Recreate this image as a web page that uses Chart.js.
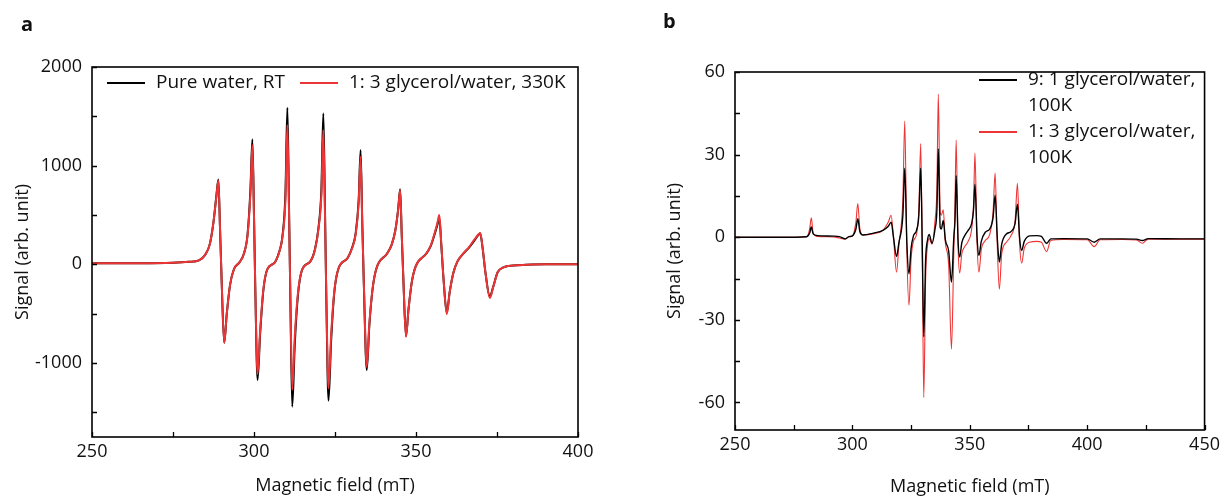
<!DOCTYPE html>
<html>
<head>
<meta charset="utf-8">
<script src="https://cdn.jsdelivr.net/npm/chart.js@4.4.0/dist/chart.umd.min.js"></script>
<style>
  body { margin: 0; background: #fff; }
  #wrap { position: relative; width: 1224px; height: 498px; font-family: "Open Sans", sans-serif; color: #111; }
  .box { position: absolute; top: 0; width: 612px; height: 498px; }
  .tag { position: absolute; font-weight: bold; font-size: 20px; line-height: 24px; }
</style>
</head>
<body>
<div id="wrap">
  <div class="box" style="left:0"><canvas id="chartA" width="612" height="498"></canvas></div>
  <div class="box" style="left:612px"><canvas id="chartB" width="612" height="498"></canvas></div>
  <div class="tag" style="left:21px; top:12px">a</div>
  <div class="tag" style="left:663px; top:9px">b</div>
</div>
<script>
// panel a: room-temperature / 330K spectra
const fieldA = [
  250, 265, 275, 280, 283.0,
  285.0, 286.4, 287.5, 288.4, 289.0, 289.5, 290.0, 290.8, 291.6, 292.6, 293.8,
  295.5, 296.9, 298.0, 298.9, 299.5, 300.0, 300.4, 301.1, 301.9, 302.9, 304.1,
  306.3, 307.7, 308.8, 309.7, 310.3, 310.8, 311.2, 311.8, 312.6, 313.6, 314.8,
  317.4, 318.8, 319.9, 320.8, 321.4, 321.9, 322.3, 323.0, 323.8, 324.8, 326.0,
  328.9, 330.3, 331.4, 332.3, 332.9, 333.4, 333.9, 334.8, 335.6, 336.6, 337.8,
  341.1, 342.5, 343.6, 344.5, 345.1, 345.6, 346.1, 346.9, 347.7, 348.7, 349.9,
  353.2, 354.6, 355.7, 356.6, 357.2, 357.8, 358.5, 359.5, 360.4, 361.5, 362.8,
  364.5, 366.5, 368.0, 369.2, 369.8, 370.5, 371.5, 372.8, 373.8, 375.2, 377.0,
  380, 384, 390, 400
];
const waterRT = [
  10, 10, 15, 25, 40,
  100, 210, 430, 700, 861, 380, -150, -795, -500, -210, -50,
  20, 110, 300, 760, 1267, 500, -250, -1172, -700, -260, -50,
  15, 120, 290, 720, 1587, 600, -300, -1443, -800, -300, -60,
  30, 150, 370, 760, 1530, 580, -300, -1382, -780, -280, -50,
  65, 170, 320, 650, 1158, 450, -200, -1071, -620, -250, -40,
  110, 200, 340, 560, 760, 300, -150, -727, -450, -180, -20,
  110, 190, 300, 400, 470, 200, -150, -490, -280, -90, 30,
  105, 175, 240, 295, 315, 180, -100, -328, -230, -80, -30,
  -12, -5, 0, 0
];
const glyc330K = [
  10, 10, 15, 25, 40,
  100, 210, 430, 690, 850, 380, -150, -795, -500, -210, -50,
  20, 110, 290, 720, 1209, 480, -240, -1112, -670, -250, -50,
  15, 115, 280, 650, 1412, 540, -280, -1274, -720, -280, -60,
  30, 145, 360, 700, 1361, 520, -280, -1257, -720, -270, -50,
  65, 165, 310, 620, 1091, 430, -190, -1038, -600, -245, -40,
  110, 200, 340, 555, 753, 300, -150, -735, -455, -180, -20,
  110, 195, 310, 420, 500, 210, -150, -505, -285, -90, 30,
  105, 180, 250, 300, 318, 185, -100, -340, -235, -80, -30,
  -12, -5, 0, 0
];
const labelsA = ['Pure water, RT', '1: 3 glycerol/water, 330K'];
const fieldTicksA = [250, 300, 350, 400];
const fieldMinorA = [275, 325, 375];
const signalTicksA = [-1000, 0, 1000, 2000];
const signalMinorA = [-1500, -500, 500, 1500];

// panel b: frozen at 100K
const fieldB = [
  250, 270, 280.5, 281.8, 282.5, 283.3, 285, 292, 294.5, 296.9,
  298.5, 300, 301.5, 302.3, 303.2, 304.5, 309, 313, 315.3, 316.5,
  317.5, 318.8, 319.8, 321.5, 322.3, 323.2, 324.1, 325.0, 326.0, 327.3,
  328.3, 329.1, 329.8, 330.4, 331.2, 332.0, 332.7, 333.9, 335.2, 336.0,
  336.6, 337.4, 337.9, 338.7, 339.6, 341.0, 342.2, 343.2, 343.7, 344.2,
  345.0, 345.7, 346.6, 347.8, 349.3, 350.8, 351.6, 352.2, 353.1, 353.9,
  354.9, 356.6, 358.5, 359.9, 360.8, 361.7, 362.6, 363.6, 365.6, 367.5,
  369.3, 370.3, 371.2, 372.1, 373.2, 375.5, 378.5, 380.5, 382.7, 384.5,
  390, 400, 403, 405.5, 415, 421, 423.5, 426, 440, 450
];
const glyc91 = [
  0, 0, 0.2, 1.5, 3.7, 1.2, 0.6, 0.4, 0.2, -0.6,
  0.2, 0.5, 3.0, 6.7, 2.0, 0.8, 1.5, 2.5, 4.0, 5.5,
  0, -7.0, -2, 8, 25.1, -2, -13.3, -4, 0.5, 2.5,
  8, 25.1, -5, -36.1, -8, -1, 1.0, -2.2, 3, 10,
  32.1, 3.5, 3.0, 6.1, -1, -5, -16.3, 0, 6, 22.3,
  -1, -7.2, -2, 0.5, 2.5, 5, 10, 19.3, 0, -6.6,
  -1.5, 1.8, 3, 7, 15.3, 0, -9.0, -2.5, 1.2, 2,
  5, 12.0, 0, -4.8, -1.5, 0.5, 0.6, 0.3, -2.2, -0.6,
  -0.5, -0.6, -1.8, -0.6, -0.6, -0.7, -1.2, -0.5, -0.6, -0.6
];
const glyc13 = [
  0, 0, 0.2, 3.0, 7.1, 1.5, 0.3, 0.1, -0.3, -0.7,
  0.2, 0.5, 5.5, 12.2, 3.0, 0.8, 1.3, 2.5, 5.5, 8.0,
  0, -12.7, -3, 14, 42.2, -5, -24.7, -8, -1.5, 1.0,
  10, 34.0, -10, -58.2, -15, -3, -0.5, -2.5, 6, 18,
  52.0, 9, 8, 10.0, -2, -10, -40.7, -5, 12, 35.3,
  -3, -13.0, -6, -3.5, -1.5, 3, 12, 30.6, -2, -12.7,
  -4.5, -1.2, 1, 9, 23.3, -3, -18.9, -6, -1.8, 0.5,
  6, 19.6, -2, -9.4, -4, -1.8, -1.5, -1.8, -5.2, -1.2,
  -0.8, -0.9, -3.4, -0.9, -0.8, -1.0, -2.2, -0.7, -0.7, -0.7
];
const labelsB = [['9: 1 glycerol/water,', '100K'], ['1: 3 glycerol/water,', '100K']];
const fieldTicksB = [250, 300, 350, 400, 450];
const fieldMinorB = [275, 325, 375, 425];
const signalTicksB = [-60, -30, 0, 30, 60];
const signalMinorB = [-45, -15, 15, 45];

const RED = '#ee3535';
const BLACK = '#000000';
const FONT = '"Open Sans", sans-serif';

// box around the plot, ticks pointing inwards
const frameTicks = {
  id: 'frameTicks',
  afterDraw(chart, args, opts) {
    const { ctx, chartArea: a, scales: { x, y } } = chart;
    ctx.save();
    ctx.strokeStyle = '#000';
    ctx.lineWidth = 1.6;
    ctx.strokeRect(a.left, a.top, a.right - a.left, a.bottom - a.top);
    ctx.beginPath();
    opts.xMarks.forEach(v => {
      const px = Math.round(x.getPixelForValue(v)) + 0.5;
      ctx.moveTo(px, a.bottom);
      ctx.lineTo(px, a.bottom - opts.len);
    });
    opts.yMarks.forEach(v => {
      const py = Math.round(y.getPixelForValue(v)) + 0.5;
      ctx.moveTo(a.left, py);
      ctx.lineTo(a.left + opts.len, py);
    });
    ctx.lineWidth = 1.3;
    ctx.stroke();
    ctx.restore();
  }
};

// legend placed inside the plot
const legendBox = {
  id: 'legendBox',
  afterDatasetsDraw(chart, args, opts) {
    const ctx = chart.ctx;
    ctx.save();
    ctx.font = opts.font;
    ctx.textBaseline = 'middle';
    chart.data.datasets.forEach((ds, i) => {
      const it = opts.items[i];
      ctx.strokeStyle = ds.borderColor;
      ctx.lineWidth = opts.lineWidth;
      ctx.beginPath();
      ctx.moveTo(it.x, it.y);
      ctx.lineTo(it.x + opts.len, it.y);
      ctx.stroke();
      ctx.fillStyle = '#111';
      [].concat(ds.label).forEach((t, k) => {
        ctx.fillText(t, it.x + opts.len + opts.gap, it.y + k * opts.lh);
      });
    });
    ctx.restore();
  }
};

function series(xs, ys, label, color, width, order) {
  return {
    label: label,
    data: xs.map((f, i) => ({ x: f, y: ys[i] })),
    borderColor: color,
    borderWidth: width,
    pointRadius: 0,
    cubicInterpolationMode: 'monotone',
    order: order
  };
}

function scales(o) {
  return {
    x: {
      type: 'linear', min: o.xMin, max: o.xMax,
      grid: { display: false, drawTicks: false },
      border: { display: false },
      afterBuildTicks: s => { s.ticks = o.xTicks.map(v => ({ value: v })); },
      afterFit: s => { s.height = o.xH; },
      ticks: { color: '#111', font: { family: FONT, size: 18 }, padding: 4, maxRotation: 0, callback: v => String(v) },
      title: { display: true, text: 'Magnetic field (mT)', color: '#111', font: { family: FONT, size: 18 }, padding: { top: 2, bottom: o.xTitlePad } }
    },
    y: {
      type: 'linear', min: o.yMin, max: o.yMax,
      grid: { display: false, drawTicks: false },
      border: { display: false },
      afterBuildTicks: s => { s.ticks = o.yTicks.map(v => ({ value: v })); },
      afterFit: s => { s.width = o.yW; },
      ticks: { color: '#111', font: { family: FONT, size: 18 }, padding: 10, callback: v => String(v) },
      title: { display: true, text: 'Signal (arb. unit)', color: '#111', font: { family: FONT, size: 18 }, padding: { top: o.yTitlePad, bottom: 2 } }
    }
  };
}

new Chart(document.getElementById('chartA'), {
  type: 'line',
  data: {
    datasets: [
      series(fieldA, waterRT, labelsA[0], BLACK, 2, 1),
      series(fieldA, glyc330K, labelsA[1], RED, 2, 0)
    ]
  },
  options: {
    responsive: false,
    animation: false,
    layout: { padding: { left: 0, top: 67, right: 34, bottom: 0 } },
    scales: scales({
      xMin: 250, xMax: 400, yMin: -1750, yMax: 2000,
      xTicks: fieldTicksA, yTicks: signalTicksA,
      xH: 61, yW: 92, xTitlePad: 1, yTitlePad: 12
    }),
    plugins: {
      legend: { display: false },
      tooltip: { enabled: false },
      frameTicks: { xMarks: fieldTicksA.concat(fieldMinorA), yMarks: signalTicksA.concat(signalMinorA), len: 5 },
      legendBox: {
        font: '19px ' + FONT, len: 38, gap: 11, lh: 26, lineWidth: 2,
        items: [{ x: 107, y: 83 }, { x: 300, y: 83 }]
      }
    }
  },
  plugins: [frameTicks, legendBox]
});

new Chart(document.getElementById('chartB'), {
  type: 'line',
  data: {
    datasets: [
      series(fieldB, glyc91, labelsB[0], BLACK, 1.4, 0),
      series(fieldB, glyc13, labelsB[1], RED, 1.1, 1)
    ]
  },
  options: {
    responsive: false,
    animation: false,
    layout: { padding: { left: 0, top: 72, right: 17, bottom: 0 } },
    scales: scales({
      xMin: 250, xMax: 450, yMin: -70, yMax: 60,
      xTicks: fieldTicksB, yTicks: signalTicksB,
      xH: 68, yW: 123, xTitlePad: 0, yTitlePad: 52
    }),
    plugins: {
      legend: { display: false },
      tooltip: { enabled: false },
      frameTicks: { xMarks: fieldTicksB.concat(fieldMinorB), yMarks: signalTicksB.concat(signalMinorB), len: 5 },
      legendBox: {
        font: '19px ' + FONT, len: 38, gap: 11, lh: 26, lineWidth: 2,
        items: [{ x: 367, y: 80 }, { x: 367, y: 132 }]
      }
    }
  },
  plugins: [frameTicks, legendBox]
});
</script>
</body>
</html>
